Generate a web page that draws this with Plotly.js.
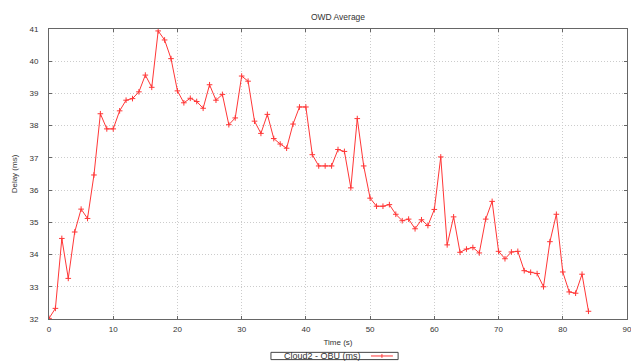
<!DOCTYPE html>
<html>
<head>
<meta charset="utf-8">
<script src="https://cdn.plot.ly/plotly-3.0.1.min.js"></script>
<style>
  html, body { margin: 0; padding: 0; background: #fff; }
  #chart { width: 631px; height: 362px; }
</style>
</head>
<body>
<div id="chart"></div>
<script>
// Time samples (s)
const timeSec = [
  0, 1, 2, 3, 4, 5, 6, 7, 8, 9,
  10, 11, 12, 13, 14, 15, 16, 17, 18, 19,
  20, 21, 22, 23, 24, 25, 26, 27, 28, 29,
  30, 31, 32, 33, 34, 35, 36, 37, 38, 39,
  40, 41, 42, 43, 44, 45, 46, 47, 48, 49,
  50, 51, 52, 53, 54, 55, 56, 57, 58, 59,
  60, 61, 62, 63, 64, 65, 66, 67, 68, 69,
  70, 71, 72, 73, 74, 75, 76, 77, 78, 79,
  80, 81, 82, 83, 84
];

// Average one-way delay Cloud2 -> OBU (ms)
const owdMs = [
  32.02, 32.33, 34.5, 33.26, 34.7, 35.41, 35.12, 36.47, 38.37, 37.9,
  37.9, 38.46, 38.79, 38.84, 39.05, 39.57, 39.19, 40.94, 40.66, 40.08,
  39.08, 38.71, 38.85, 38.75, 38.54, 39.27, 38.79, 38.97, 38.03, 38.24,
  39.54, 39.38, 38.14, 37.76, 38.35, 37.6, 37.43, 37.3, 38.05, 38.58,
  38.58, 37.1, 36.75, 36.75, 36.75, 37.26, 37.2, 36.07, 38.22, 36.75,
  35.75, 35.5, 35.5, 35.55, 35.25, 35.05, 35.1, 34.8, 35.08, 34.9,
  35.4, 37.03, 34.3, 35.17, 34.07, 34.17, 34.22, 34.05, 35.1, 35.65,
  34.1, 33.87, 34.08, 34.1, 33.5, 33.45, 33.41, 33.0, 34.4, 35.25,
  33.46, 32.84, 32.8, 33.39, 32.24
];

const seriesName = 'Cloud2 - OBU (ms)';
const xTicks = [0, 10, 20, 30, 40, 50, 60, 70, 80, 90];
const yTicks = [32, 33, 34, 35, 36, 37, 38, 39, 40, 41];

const lineColor = 'rgb(255,55,55)';
const textColor = '#333';
const fontFamily = '"Liberation Sans", Arial, sans-serif';

const trace = {
  x: timeSec,
  y: owdMs,
  type: 'scatter',
  mode: 'lines+markers',
  name: seriesName,
  line: { color: lineColor, width: 1 },
  marker: { symbol: 'cross-thin-open', size: 4, line: { color: lineColor, width: 1 } },
  showlegend: false
};

const axisCommon = {
  showline: true,
  linecolor: '#666',
  linewidth: 1,
  mirror: 'ticks',
  ticks: 'inside',
  ticklen: 3,
  tickcolor: '#666',
  showgrid: true,
  gridcolor: '#cccccc',
  griddash: '1px,2px',
  gridwidth: 1,
  zeroline: false,
  ticklabeloverflow: 'allow',
  tickfont: { family: fontFamily, size: 8, color: textColor }
};

// Legend box drawn below the axis: label on the left, line sample on the right
const legendShapes = [
  { type: 'rect', xref: 'paper', yref: 'paper', x0: 0.384, x1: 0.604, y0: -0.140, y1: -0.115,
    line: { color: '#444', width: 1 }, fillcolor: '#fff' },
  { type: 'line', xref: 'paper', yref: 'paper', x0: 0.557, x1: 0.595, y0: -0.1275, y1: -0.1275,
    line: { color: lineColor, width: 1 } },
  { type: 'line', xref: 'paper', yref: 'paper', x0: 0.576, x1: 0.576, y0: -0.134, y1: -0.121,
    line: { color: lineColor, width: 1 } }
];

const layout = {
  width: 631,
  height: 362,
  margin: { l: 49, r: 4, t: 29, b: 43 },
  paper_bgcolor: '#fff',
  plot_bgcolor: '#fff',
  font: { family: fontFamily, size: 8, color: textColor },
  title: {
    text: 'OWD Average',
    font: { family: fontFamily, size: 8.5, color: textColor },
    x: 0.5, xref: 'paper',
    y: 0.953, yref: 'container', yanchor: 'middle'
  },
  xaxis: Object.assign({}, axisCommon, {
    range: [0, 90],
    tickvals: xTicks,
    ticklabelstandoff: 2,
    title: { text: 'Time (s)', font: { family: fontFamily, size: 8, color: textColor }, standoff: 6 }
  }),
  yaxis: Object.assign({}, axisCommon, {
    range: [32, 41],
    tickvals: yTicks,
    ticklabelstandoff: 8,
    title: { text: 'Delay (ms)', font: { family: fontFamily, size: 8, color: textColor }, standoff: 10 }
  }),
  shapes: legendShapes,
  annotations: [
    { text: seriesName, xref: 'paper', yref: 'paper', x: 0.474, y: -0.1275,
      xanchor: 'center', yanchor: 'middle', showarrow: false,
      font: { family: fontFamily, size: 9, color: textColor } }
  ]
};

Plotly.newPlot('chart', [trace], layout, { displayModeBar: false, staticPlot: true });
</script>
</body>
</html>
